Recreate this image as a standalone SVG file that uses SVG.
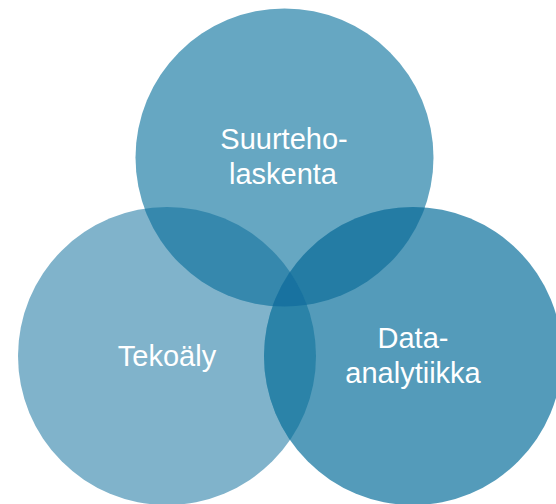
<svg xmlns="http://www.w3.org/2000/svg" width="556" height="504" viewBox="0 0 556 504">
  <style>
    .label { font-family: "Liberation Sans", Arial, sans-serif; font-size: 29px; fill: #ffffff; text-anchor: middle; }
  </style>
  <defs>
    <!-- circle geometry reused for clipping the overlap regions -->
    <circle id="cTop" cx="284.5" cy="157.5" r="149"/>
    <circle id="cLeft" cx="167" cy="356" r="149"/>
    <circle id="cRight" cx="413" cy="356" r="149"/>
    <clipPath id="clipTop"><use href="#cTop"/></clipPath>
    <clipPath id="clipLeft"><use href="#cLeft"/></clipPath>
    <clipPath id="clipRight"><use href="#cRight"/></clipPath>
    <clipPath id="clipTopLeft" clip-path="url(#clipLeft)"><use href="#cTop"/></clipPath>
  </defs>
  <rect width="556" height="504" fill="#ffffff"/>

  <g id="node-tekoaly">
    <use href="#cLeft" fill="#80b3cb"/>
  </g>
  <g id="node-suurteholaskenta">
    <use href="#cTop" fill="#66a7c2"/>
  </g>
  <g id="node-data-analytiikka">
    <use href="#cRight" fill="#549bba"/>
  </g>

  <!-- overlap regions -->
  <g id="overlaps">
    <use href="#cTop" fill="#3688ad" clip-path="url(#clipLeft)"/>
    <use href="#cTop" fill="#247ca4" clip-path="url(#clipRight)"/>
    <use href="#cLeft" fill="#2b83a8" clip-path="url(#clipRight)"/>
    <use href="#cRight" fill="#1872a0" clip-path="url(#clipTopLeft)"/>
  </g>

  <g id="labels">
    <text class="label" x="284" y="149">Suurteho-</text>
    <text class="label" x="283" y="184">laskenta</text>
    <text class="label" x="167" y="366">Tekoäly</text>
    <text class="label" x="413" y="348">Data-</text>
    <text class="label" x="413" y="383">analytiikka</text>
  </g>
</svg>
